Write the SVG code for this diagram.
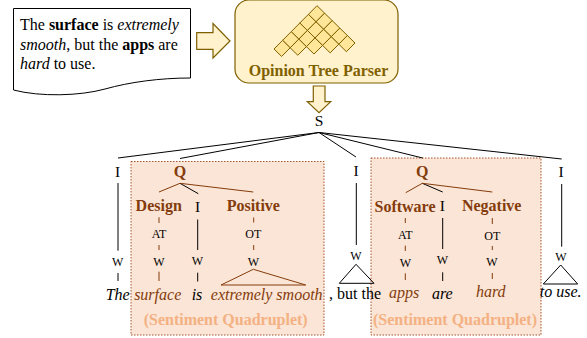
<svg xmlns="http://www.w3.org/2000/svg" width="587" height="338" viewBox="0 0 587 338">
<style>
text{font-family:"Liberation Serif","Times New Roman",serif;fill:#000}
.t{font-size:15.5px;text-anchor:middle}
.w{font-size:12px;text-anchor:middle}
.br{font-size:16px;font-weight:bold;fill:#843c0c;text-anchor:middle}
.it{font-size:16px;font-style:italic;text-anchor:middle}
.itb{font-size:16px;font-style:italic;fill:#843c0c;text-anchor:middle}
.sq{font-size:16px;font-weight:bold;fill:#f4b183;text-anchor:middle}
.doc{font-size:16px}
.panel{fill:#fbe5d6;stroke:#a5532a;stroke-width:1;stroke-dasharray:1.5 1.5}
.k{stroke:#000;stroke-width:1;fill:none}
.b{stroke:#843c0c;stroke-width:1;fill:none}
.arrow{fill:#fff2cc;stroke:#7f6000;stroke-width:1.2}
.cell{fill:#ffe699;stroke:#7f6000;stroke-width:1}
</style>
<defs><path id="c" class="cell" d="M0 0l7.6 7.46l-8.6 8.66l-7.6-7.46z"/></defs>
<g id="panel-left"><rect class="panel" x="131" y="161.500" width="193" height="173.500"/></g>
<g id="panel-right"><rect class="panel" x="371" y="158" width="170" height="177"/></g>
<g id="input-doc">
<path d="M13.500 8.500H190.500V78C160 78 130 82 105 89C80 96 40 97 13.500 90Z" fill="#fff" stroke="#000" stroke-width="1"/>
<text class="doc" x="20" y="30">The <tspan font-weight="bold">surface</tspan> is <tspan font-style="italic">extremely</tspan></text>
<text class="doc" x="20" y="50"><tspan font-style="italic">smooth</tspan>, but the <tspan font-weight="bold">apps</tspan> are</text>
<text class="doc" x="20" y="69"><tspan font-style="italic">hard</tspan> to use.</text>
</g>
<g id="arrow-right"><path class="arrow" d="M196.700 32.700H213V23.500L230 41L213 58V49.300H196.700Z"/></g>
<g id="parser">
<rect x="235" y="0" width="163" height="83" rx="14" fill="#fff2cc" stroke="#7f6000" stroke-width="1.2"/>
<g id="grid">
<use href="#c" x="317" y="5.700"/><use href="#c" x="308.400" y="14.360"/><use href="#c" x="324.600" y="13.160"/>
<use href="#c" x="299.800" y="23.020"/><use href="#c" x="316" y="21.820"/><use href="#c" x="332.200" y="20.620"/>
<use href="#c" x="291.200" y="31.680"/><use href="#c" x="307.400" y="30.480"/><use href="#c" x="323.600" y="29.280"/><use href="#c" x="339.800" y="28.080"/>
<use href="#c" x="282.600" y="40.340"/><use href="#c" x="298.800" y="39.140"/><use href="#c" x="315" y="37.940"/><use href="#c" x="331.200" y="36.740"/><use href="#c" x="347.400" y="35.540"/>
</g>
<text x="318.500" y="76" font-size="16" font-weight="bold" text-anchor="middle" style="fill:#7f6000">Opinion Tree Parser</text>
</g>
<g id="arrow-down"><path class="arrow" d="M313.300 86H325V101.700H330.700L319 112.700L307.300 101.700H313.300Z"/></g>
<g id="connectors">
<path class="k" d="M319 132.500L118 158M319 132.500L180 158.500M319 132.500L356 157M319 132.500L422.700 158M319 132.500L561.700 159"/>
<path class="k" d="M118 183V250.700M118 273V281M197.700 219.500V250M197.700 272.700V281.500M356.300 183V245M442.700 218V249M442.700 272.300V281M561.700 184V246.700"/>
<path class="k" d="M180 183.300L198.300 193.700M422.300 183.300L442.700 192"/>
<path class="b" d="M180 183.300L159 192M180 183.300L253.300 192M422.300 183.300L405.700 192.700M422.300 183.300L492.300 192"/>
<path class="b" d="M159 217.300V223M159 245V250M159 271.700V281M253.700 217.500V222.500M253.700 245V250M405.300 218V223M405.300 245.700V251M405.300 273.300V280M492.300 218V224M492.300 246V250M492.300 273V279"/>
<path class="b" d="M253.300 269.300L221 285H305.700Z"/>
<path class="k" d="M356 264.300L339.300 283.300H374ZM560.700 265L543.300 284H577.700Z"/>
</g>
<g id="labels">
<text class="t" x="319" y="126">S</text>
<text class="t" x="117.500" y="176.700">I</text>
<text class="br" x="180" y="176.700">Q</text>
<text class="t" x="356" y="175.700">I</text>
<text class="br" x="422.300" y="176.700">Q</text>
<text class="t" x="561" y="176.700">I</text>
<text class="br" x="158.700" y="211">Design</text>
<text class="t" x="197.700" y="211.700">I</text>
<text class="br" x="253.300" y="211">Positive</text>
<text class="br" x="405" y="211.700">Software</text>
<text class="t" x="442.300" y="211">I</text>
<text class="br" x="491.700" y="211">Negative</text>
<text class="w" x="159" y="237.700">AT</text>
<text class="w" x="253.300" y="237.700">OT</text>
<text class="w" x="405.300" y="239">AT</text>
<text class="w" x="492.300" y="240">OT</text>
<text class="w" x="117.700" y="265.700">W</text>
<text class="w" x="159" y="265.700">W</text>
<text class="w" x="197.500" y="264.700">W</text>
<text class="w" x="253.300" y="265.700">W</text>
<text class="w" x="356" y="260">W</text>
<text class="w" x="405.300" y="266.700">W</text>
<text class="w" x="442.500" y="264.300">W</text>
<text class="w" x="492" y="265.700">W</text>
<text class="w" x="561" y="261">W</text>
<text class="it" x="117.700" y="300">The</text>
<text class="itb" x="157.700" y="300">surface</text>
<text class="it" x="197" y="300">is</text>
<text class="itb" x="266.700" y="300">extremely smooth</text>
<text class="doc" x="329" y="299">, but the</text>
<text class="itb" x="404" y="298">apps</text>
<text class="it" x="442.300" y="299.300">are</text>
<text class="itb" x="490.700" y="296.700">hard</text>
<text class="it" x="560.700" y="296.700">to use.</text>
<text class="sq" x="225.700" y="325">(Sentiment Quadruplet)</text>
<text class="sq" x="455" y="325">(Sentiment Quadruplet)</text>
</g>
</svg>
